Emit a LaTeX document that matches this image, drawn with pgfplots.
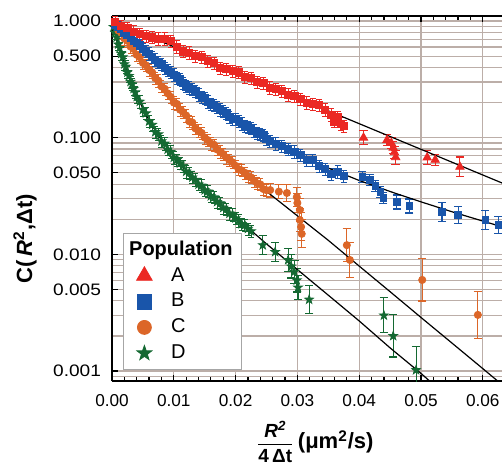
\documentclass[border=0pt]{standalone}
\usepackage{fontspec}
\setmainfont{Liberation Sans}
\newfontfamily\ystretch{Liberation Sans}[FakeStretch=1.15]
\usepackage{pgfplots}
\pgfplotsset{compat=1.18}
\usepackage{pgfplotstable}
\definecolor{cA}{RGB}{235,40,35}
\definecolor{cB}{RGB}{25,85,170}
\definecolor{cC}{RGB}{220,102,40}
\definecolor{cD}{RGB}{20,105,50}
\definecolor{gridc}{RGB}{188,174,168}
\pgfdeclareplotmark{fstar}{%
  \pgfpathmoveto{\pgfpoint{0pt}{\pgfplotmarksize}}%
  \pgfpathlineto{\pgfpoint{-0.235\pgfplotmarksize}{0.324\pgfplotmarksize}}%
  \pgfpathlineto{\pgfpoint{-0.951\pgfplotmarksize}{0.309\pgfplotmarksize}}%
  \pgfpathlineto{\pgfpoint{-0.380\pgfplotmarksize}{-0.124\pgfplotmarksize}}%
  \pgfpathlineto{\pgfpoint{-0.588\pgfplotmarksize}{-0.809\pgfplotmarksize}}%
  \pgfpathlineto{\pgfpoint{0pt}{-0.4\pgfplotmarksize}}%
  \pgfpathlineto{\pgfpoint{0.588\pgfplotmarksize}{-0.809\pgfplotmarksize}}%
  \pgfpathlineto{\pgfpoint{0.380\pgfplotmarksize}{-0.124\pgfplotmarksize}}%
  \pgfpathlineto{\pgfpoint{0.951\pgfplotmarksize}{0.309\pgfplotmarksize}}%
  \pgfpathlineto{\pgfpoint{0.235\pgfplotmarksize}{0.324\pgfplotmarksize}}%
  \pgfpathclose
  \pgfusepathqfillstroke}
\pgfplotsset{
  dense/.style={only marks, forget plot, mark size=1.8pt,
    error bars/y dir=both, error bars/y fixed relative=0.12,
    error bars/error bar style={line width=0.45pt},
    error bars/error mark options={rotate=90, mark size=1.5pt, line width=0.45pt}},
  sparse/.style={only marks, forget plot, mark size=1.8pt,
    error bars/y dir=both, error bars/y explicit relative,
    error bars/error bar style={line width=0.55pt},
    error bars/error mark options={rotate=90, mark size=2.1pt, line width=0.55pt}},
  fit/.style={black, line width=0.6pt, no marks, forget plot},
}
\begin{document}
\begin{tikzpicture}
\useasboundingbox (-56pt,-42.5pt) rectangle (195pt,190.5pt);
\begin{axis}[
  at={(0,0)}, anchor=south west,
  scale only axis, width=195pt, height=182.5pt,
  xmin=0, xmax=0.06311, ymode=log, ymin=0.000822, ymax=1.104,
  axis x line*=box, axis y line*=left,
  scaled x ticks=false,
  xtick={0,0.01,0.02,0.03,0.04,0.05,0.06},
  xticklabels={0.00,0.01,0.02,0.03,0.04,0.05,0.06},
  minor x tick num=4,
  ytick={0.001,0.005,0.01,0.05,0.1,0.5,1},
  yticklabels={0.001,0.005,0.010,0.050,0.100,0.500,1.000},
  minor ytick={0.0009,0.002,0.003,0.004,0.006,0.007,0.008,0.009,0.02,0.03,0.04,0.06,0.07,0.08,0.09,0.2,0.3,0.4,0.6,0.7,0.8,0.9},
  xmajorgrids, ymajorgrids, yminorgrids,
  grid style={gridc, line width=0.6pt},
  minor grid style={gridc, line width=0.6pt},
  minor y tick style={draw=none},
  tick align=inside,
  major tick length=3pt, minor tick length=2pt,
  axis line style={line width=0.9pt},
  tick style={black, line width=0.6pt},
  x tick label style={font=\fontsize{8.6}{10}\selectfont, yshift=-3pt},
  y tick label style={font=\ystretch\fontsize{8.3}{10}\selectfont, xshift=-2pt},
  xlabel={$\frac{\mbox{\fontsize{9.5}{10}\selectfont\bfseries\itshape R\textsuperscript{2}\rule[-2.5pt]{0pt}{1pt}}}{\mbox{\fontsize{9.5}{10}\selectfont\bfseries\rule{0pt}{8.5pt}4\,Δt}}$\,{\fontsize{11}{13}\selectfont\bfseries(μm\textsuperscript{2}/s)}},
  ylabel={\fontsize{11}{13}\selectfont\bfseries C(\,\textit{R}\textsuperscript{2},Δt)},
  every axis x label/.style={at={(axis description cs:0.52,-0.166)}, anchor=center},
  every axis y label/.style={at={(axis description cs:-0.223,0.39)}, anchor=center, rotate=90},
  legend cell align=left,
  legend style={at={(0.028,0.03)}, anchor=south west, draw=gray!70, fill=white,
    font=\fontsize{10}{12}\selectfont, row sep=0.5pt, inner sep=2pt},
]
% ---- D dense
\addplot[dense, color=cD, mark=fstar, mark size=2.3pt] table[row sep=\\]{
x y\\
0.00025 0.891\\ 0.0005 0.794\\ 0.00075 0.724\\ 0.0010 0.631\\ 0.00125 0.589\\
0.0015 0.525\\ 0.00175 0.490\\ 0.0020 0.427\\ 0.00225 0.407\\ 0.0025 0.363\\
0.00275 0.339\\ 0.0030 0.302\\ 0.00325 0.288\\ 0.0035 0.263\\ 0.00375 0.245\\
0.0040 0.224\\ 0.0045 0.204\\ 0.0050 0.174\\ 0.0055 0.162\\ 0.0060 0.138\\
0.0065 0.129\\ 0.0070 0.112\\ 0.0075 0.107\\ 0.0080 0.0933\\ 0.0085 0.0891\\
0.0090 0.0794\\ 0.0095 0.0759\\ 0.0100 0.0676\\ 0.0105 0.0646\\ 0.0110 0.0603\\
0.0115 0.0575\\ 0.0120 0.0513\\ 0.0125 0.0501\\ 0.0130 0.0457\\ 0.0135 0.0437\\
0.0140 0.0398\\ 0.0145 0.0389\\ 0.0150 0.0355\\ 0.0155 0.0347\\ 0.0160 0.0316\\
0.0165 0.0309\\ 0.0170 0.0282\\ 0.0175 0.0275\\ 0.0180 0.0251\\ 0.0185 0.0245\\
0.0190 0.0224\\ 0.0195 0.0219\\ 0.0200 0.0204\\ 0.0205 0.0195\\ 0.0210 0.0182\\
0.0215 0.0178\\ 0.0220 0.0166\\ 0.0225 0.0158\\
};
\addplot[sparse, color=cD, mark=fstar, mark size=2.3pt] table[row sep=\\, y error plus=ep, y error minus=em]{
x y ep em\\
0.0244 0.0120 0.202 0.168\\
0.0264 0.0105 0.202 0.168\\
0.0285 0.00895 0.259 0.206\\
0.0290 0.0079 0.259 0.206\\
0.0295 0.0071 0.259 0.206\\
0.0299 0.0060 0.259 0.206\\
0.0301 0.0052 0.259 0.206\\
0.0319 0.0041 0.318 0.241\\
0.0440 0.0030 0.413 0.292\\
0.0455 0.0020 0.514 0.340\\
0.0492 0.00102 0.585 0.369\\
};
% ---- C dense
\addplot[dense, color=cC, mark=*] table[row sep=\\]{
x y\\
0.0005 0.912\\ 0.0010 0.832\\ 0.0015 0.794\\ 0.0020 0.708\\ 0.0025 0.676\\
0.0030 0.603\\ 0.0035 0.575\\ 0.0040 0.513\\ 0.0045 0.490\\ 0.0050 0.437\\
0.0055 0.417\\ 0.0060 0.380\\ 0.0065 0.363\\ 0.0070 0.324\\ 0.0075 0.309\\
0.0080 0.275\\ 0.0085 0.263\\ 0.0090 0.240\\ 0.0095 0.224\\ 0.0100 0.200\\
0.0105 0.195\\ 0.0110 0.174\\ 0.0115 0.166\\ 0.0120 0.155\\ 0.0125 0.138\\
0.0130 0.135\\ 0.0135 0.120\\ 0.0140 0.115\\ 0.0145 0.110\\ 0.0150 0.100\\
0.0155 0.0955\\ 0.0160 0.0891\\ 0.0165 0.0871\\ 0.0170 0.0794\\ 0.0175 0.0759\\
0.0180 0.0724\\ 0.0185 0.0676\\ 0.0190 0.0646\\ 0.0195 0.0617\\ 0.0200 0.0575\\
0.0205 0.0537\\ 0.0210 0.0525\\ 0.0215 0.0501\\ 0.0220 0.0468\\ 0.0225 0.0457\\
0.0230 0.0427\\ 0.0235 0.0407\\ 0.0240 0.0398\\ 0.0245 0.0363\\ 0.0250 0.0355\\
};
\addplot[sparse, color=cC, mark=*] table[row sep=\\, y error plus=ep, y error minus=em]{
x y ep em\\
0.0256 0.0356 0.148 0.129\\
0.0270 0.0345 0.148 0.129\\
0.0283 0.0336 0.175 0.149\\
0.0299 0.0310 0.202 0.168\\
0.0300 0.0276 0.202 0.168\\
0.0304 0.0240 0.259 0.206\\
0.0304 0.0197 0.259 0.206\\
0.0306 0.0172 0.318 0.241\\
0.0307 0.0150 0.318 0.241\\
0.0380 0.0120 0.380 0.276\\
0.0385 0.00895 0.413 0.292\\
0.0502 0.00604 0.514 0.340\\
0.0592 0.00303 0.585 0.369\\
};
% ---- B dense
\addplot[dense, color=cB, mark=square*] table[row sep=\\]{
x y\\
0.0005 0.933\\ 0.0010 0.891\\ 0.0015 0.851\\ 0.0020 0.794\\ 0.0025 0.759\\
0.0030 0.724\\ 0.0035 0.676\\ 0.0040 0.646\\ 0.0045 0.617\\ 0.0050 0.575\\
0.0055 0.550\\ 0.0060 0.525\\ 0.0065 0.490\\ 0.0070 0.468\\ 0.0075 0.447\\
0.0080 0.427\\ 0.0085 0.398\\ 0.0090 0.380\\ 0.0095 0.363\\ 0.0100 0.347\\
0.0105 0.324\\ 0.0110 0.316\\ 0.0115 0.295\\ 0.0120 0.275\\ 0.0125 0.269\\
0.0130 0.263\\ 0.0135 0.251\\ 0.0140 0.234\\ 0.0145 0.224\\ 0.0150 0.219\\
0.0155 0.204\\ 0.0160 0.195\\ 0.0165 0.191\\ 0.0170 0.182\\ 0.0175 0.174\\
0.0180 0.170\\ 0.0185 0.162\\ 0.0190 0.151\\ 0.0195 0.145\\ 0.0200 0.145\\
0.0205 0.138\\ 0.0210 0.132\\ 0.0215 0.126\\ 0.0220 0.123\\ 0.0225 0.120\\
0.0230 0.115\\ 0.0235 0.110\\ 0.0240 0.107\\ 0.0245 0.105\\ 0.0250 0.098\\
0.0255 0.0933\\ 0.0265 0.0891\\ 0.0275 0.0851\\ 0.0285 0.0794\\ 0.0295 0.0759\\
0.0305 0.0708\\ 0.0315 0.0646\\ 0.0325 0.0646\\ 0.0335 0.0575\\ 0.0345 0.0537\\
0.0355 0.0490\\ 0.0365 0.0513\\ 0.0375 0.0468\\
};
\addplot[sparse, color=cB, mark=square*, mark size=1.6pt] table[row sep=\\, y error plus=ep, y error minus=em]{
x y ep em\\
0.0405 0.0460 0.122 0.109\\
0.0417 0.0434 0.122 0.109\\
0.0426 0.0386 0.122 0.109\\
0.0434 0.0343 0.122 0.109\\
0.0439 0.0304 0.122 0.109\\
0.0461 0.0281 0.148 0.129\\
0.0481 0.0260 0.148 0.129\\
0.0534 0.0231 0.216 0.178\\
0.0560 0.0218 0.175 0.149\\
0.0604 0.0197 0.202 0.168\\
0.0625 0.0179 0.175 0.149\\
};
% ---- A dense
\addplot[dense, color=cA, mark=square*] table[row sep=\\]{
x y\\
0.0005 0.977\\ 0.0015 0.912\\ 0.0025 0.871\\ 0.0035 0.813\\ 0.0045 0.776\\
0.0055 0.741\\ 0.0065 0.724\\ 0.0075 0.708\\ 0.0085 0.708\\ 0.0095 0.676\\
0.0105 0.603\\ 0.0115 0.550\\ 0.0125 0.537\\ 0.0135 0.501\\ 0.0145 0.490\\
0.0155 0.457\\ 0.0165 0.437\\ 0.0175 0.398\\ 0.0185 0.389\\ 0.0195 0.372\\
0.0205 0.363\\ 0.0215 0.331\\ 0.0225 0.324\\ 0.0235 0.302\\ 0.0245 0.295\\
0.0255 0.269\\ 0.0265 0.263\\ 0.0275 0.251\\ 0.0285 0.234\\ 0.0295 0.229\\
0.0305 0.214\\ 0.0315 0.200\\ 0.0325 0.195\\ 0.0335 0.191\\ 0.0345 0.174\\
0.0355 0.158\\ 0.0360 0.138\\ 0.0365 0.151\\ 0.0370 0.132\\ 0.0375 0.126\\
};
\addplot[sparse, color=cA, mark=triangle*, mark size=2.4pt] table[row sep=\\, y error plus=ep, y error minus=em]{
x y ep em\\
0.0407 0.100 0.148 0.129\\
0.0445 0.0955 0.109 0.098\\
0.0452 0.090 0.122 0.109\\
0.0455 0.082 0.122 0.109\\
0.0457 0.075 0.122 0.109\\
0.0459 0.068 0.148 0.129\\
0.0510 0.0676 0.148 0.129\\
0.0523 0.0645 0.122 0.109\\
0.0563 0.0562 0.216 0.178\\
};
% ---- fits
\addplot[fit] coordinates {(0,1) (0.065,0.0372)};
\addplot[fit] coordinates {(0,1)(0.0025,0.757)(0.005,0.577)(0.0075,0.445)(0.01,0.346)(0.0125,0.272)(0.015,0.2166)(0.0175,0.1746)(0.02,0.1427)(0.025,0.0992)(0.03,0.0722)(0.035,0.0549)(0.04,0.0430)(0.045,0.0346)(0.05,0.0282)(0.055,0.0232)(0.06,0.0193)(0.065,0.0161)};
\addplot[fit] coordinates {(0,1)(0.0025,0.661)(0.005,0.447)(0.0075,0.302)(0.01,0.204)(0.0125,0.141)(0.015,0.102)(0.0175,0.0759)(0.02,0.0575)(0.025,0.0347)(0.03,0.0214)(0.035,0.0132)(0.04,0.00794)(0.045,0.00479)(0.05,0.00288)(0.055,0.00174)(0.06,0.00105)(0.065,0.000631)};
\addplot[fit] coordinates {(0,1)(0.001,0.646)(0.002,0.437)(0.003,0.309)(0.004,0.229)(0.005,0.178)(0.006,0.141)(0.007,0.115)(0.008,0.0955)(0.010,0.0692)(0.012,0.0525)(0.014,0.0407)(0.016,0.0324)(0.018,0.0257)(0.020,0.0209)(0.025,0.0123)(0.030,0.00741)(0.035,0.00447)(0.040,0.00269)(0.045,0.00158)(0.050,0.000955)(0.053,0.00069)};
% ---- legend
\addlegendimage{empty legend}
\addlegendentry{\hspace*{-13.5pt}\makebox[52pt][l]{\textbf{Population}}}
\addlegendimage{only marks, mark=triangle*, mark size=4.5pt, color=cA}
\addlegendentry{\hspace*{7.5pt}A}
\addlegendimage{only marks, mark=square*, mark size=3.7pt, color=cB}
\addlegendentry{\hspace*{7.5pt}B}
\addlegendimage{only marks, mark=*, mark size=3.5pt, color=cC}
\addlegendentry{\hspace*{7.5pt}C}
\addlegendimage{only marks, mark=fstar, mark size=3.9pt, color=cD}
\addlegendentry{\hspace*{7.5pt}D}
\end{axis}
\end{tikzpicture}
\end{document}
